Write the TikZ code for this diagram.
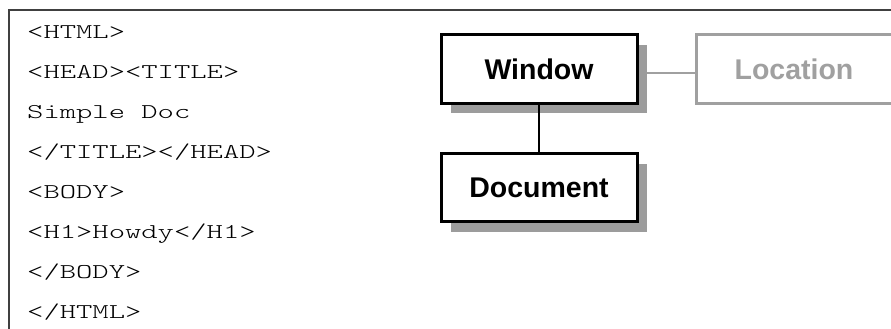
\documentclass[tikz,border=0pt]{standalone}
\usepackage{fontspec}
\setmainfont{Liberation Sans}
\newfontfamily\codefont[FakeStretch=1.48]{lmmonolt10-regular.otf}
\usetikzlibrary{shadows,backgrounds}
\definecolor{framegray}{HTML}{404040}
\definecolor{shadegray}{HTML}{9C9C9C}
\definecolor{palegray}{HTML}{A0A0A0}
\tikzset{
  codeline/.style={anchor=base west, inner sep=0pt, font=\codefont\fontsize{21}{21}\selectfont},
  objbox/.style={draw=black, line width=3pt, fill=white, minimum width=196pt, minimum height=68pt,
    inner sep=0pt, font=\bfseries\fontsize{28.5}{28.5}\selectfont,
    drop shadow={shadow xshift=10pt, shadow yshift=-10pt, fill=shadegray, opacity=1}},
  farbox/.style={draw=palegray, line width=3pt, fill=white, minimum width=196pt, minimum height=68pt,
    inner sep=0pt, text=palegray, font=\bfseries\fontsize{28.5}{28.5}\selectfont},
  link/.style={line width=2.5pt, black},
  farlink/.style={line width=2pt, palegray}
}
\begin{document}
\begin{tikzpicture}[x=1pt, y=-1pt]
\useasboundingbox (0,0) rectangle (891,329);
% frame along the top and left edges
\draw[framegray, line width=2pt] (891,10.5) -- (9,10.5) -- (9,330);
% HTML source listing
\foreach \t [count=\i from 0] in {<HTML>, <HEAD><TITLE>, Simple Doc, </TITLE></HEAD>, <BODY>, <H1>Howdy</H1>, </BODY>, </HTML>}
  \node[codeline] (code\i) at (27, 38.5+40*\i) {\t};
% object hierarchy
\node[objbox] (window) at (539,69) {Window};
\node[objbox] (document) at (539,187.5) {Document};
\node[farbox] (location) at (794,69) {Location};
\draw[link] (window.south) -- (document.north);
\begin{pgfonlayer}{background}
\draw[farlink] ([yshift=-4pt]window.east) -- ([yshift=-4pt]location.west);
\end{pgfonlayer}
\end{tikzpicture}
\end{document}
